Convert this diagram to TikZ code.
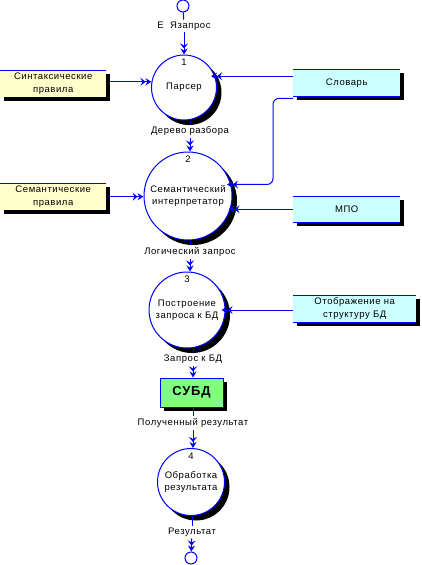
\documentclass[tikz,border=0pt]{standalone}
\usepackage{fontspec}
\setmainfont{Liberation Sans}[LetterSpace=6]
\usetikzlibrary{arrows.meta,shadows}
\definecolor{dfdblue}{HTML}{0000FF}
\definecolor{storeyellow}{HTML}{FFFFCC}
\definecolor{storecyan}{HTML}{CCFFFF}
\definecolor{dbmsgreen}{HTML}{80FF80}
\newcommand{\dfdfont}{\fontsize{9.5}{12.5}\selectfont}

\tikzset{
  Process/.style={shape=circle, draw=dfdblue, fill=white, line width=1pt,
    inner sep=0pt, align=center, font=\dfdfont,
    drop shadow={shadow xshift=5pt, shadow yshift=-5pt, opacity=1, fill=black}},
  Number/.style={anchor=north, inner sep=0pt, yshift=-4.5pt, font=\dfdfont},
  Terminal/.style={shape=circle, draw=dfdblue, fill=white, line width=1pt,
    inner sep=0pt, minimum size=12pt},
  Store/.style={shape=rectangle, inner sep=0pt, minimum height=27pt,
    align=center, font=\dfdfont, anchor=north west,
    drop shadow={shadow xshift=4pt, shadow yshift=-4pt, opacity=1, fill=black}},
  StoreLine/.style={draw=dfdblue, line width=1pt},
  DBMS/.style={shape=rectangle, draw=dfdblue, fill=dbmsgreen, line width=1pt,
    minimum width=63pt, minimum height=29pt, inner sep=0pt,
    font=\fontsize{13}{15}\selectfont\bfseries,
    drop shadow={shadow xshift=4pt, shadow yshift=-4pt, opacity=1, fill=black}},
  FlowLabel/.style={inner sep=2pt, font=\dfdfont},
  flowline/.style={draw=dfdblue, line width=1pt},
  flow/.style={flowline, -{Stealth[length=5pt,width=8pt,inset=2pt]Stealth[length=6pt,width=7pt,inset=2pt]}},
  intoshadow/.style={shorten >=-4pt}
}

\begin{document}
\begin{tikzpicture}[x=1pt,y=-1pt]
\useasboundingbox (0,0) rectangle (421,565);

\node[Terminal] (t0) at (183,6) {};
\node[Terminal] (t1) at (191,558) {};

\node[Process, minimum size=65pt] (p1) at (184,87.5) {Парсер};
\node[Number] (p1n) at (p1.north) {1};
\node[Process, minimum size=88pt] (p2) at (188,196) {Семантический\\интерпретатор};
\node[Number] (p2n) at (p2.north) {2};
\node[Process, minimum size=76pt] (p3) at (187,310) {Построение\\запроса к БД};
\node[Number] (p3n) at (p3.north) {3};
\node[Process, minimum size=67pt] (p4) at (191,482) {Обработка\\результата};
\node[Number] (p4n) at (p4.north) {4};

\node[DBMS] (db) at (191.5,392.5) {СУБД};

\node[Store, fill=storeyellow, minimum width=106pt] (s1) at (0,70) {Синтаксические\\правила};
\node[Store, fill=storeyellow, minimum width=106pt] (s2) at (0,183) {Семантические\\правила};
\node[Store, fill=storecyan, minimum width=107pt] (s3) at (293,69) {Словарь};
\node[Store, fill=storecyan, minimum width=107pt, minimum height=26pt] (s4) at (293,196) {МПО};
\node[Store, fill=storecyan, minimum width=123pt] (s5) at (293,295) {Отображение на\\структуру БД};
\foreach \s in {s1,s2,s3,s4,s5}
  \draw[StoreLine] (\s.north west) -- (\s.north east);
\foreach \s in {s3,s4,s5}
  \draw[StoreLine] (\s.south west) -- (\s.south east);

\node[FlowLabel] (lq) at (184,26) {Е\ \ Язапрос};
\node[FlowLabel] (lt) at (190,131) {Дерево разбора};
\node[FlowLabel] (ll) at (190,252) {Логический запрос};
\node[FlowLabel] (lb) at (193,359) {Запрос к БД};
\node[FlowLabel] (lr) at (193,423) {Полученный результат};
\node[FlowLabel] (lf) at (192,532) {Результат};

\draw[flowline] (t0) -- (lq);
\draw[flow] (lq) -- (p1);
\draw[flowline] (lt.north |- p1.south) -- (lt);
\draw[flow] (lt) -- (lt.south |- p2.north);
\draw[flowline] (ll.north |- p2.south) -- (ll);
\draw[flow] (ll) -- (ll.south |- p3.north);
\draw[flowline] (lb.north |- p3.south) -- (lb);
\draw[flow] (lb) -- (lb.south |- db.north);
\draw[flowline] (lr.north |- db.south) -- (lr);
\draw[flow] (lr) -- (lr.south |- p4.north);
\draw[flowline] (lf.north |- p4.south) -- (lf);
\draw[flow] (lf) -- (t1);

\draw[flow] ([xshift=4pt]s1.east |- p1.170) -- (p1.170);
\draw[flow, intoshadow] (s3.west |- p1.20) -- (p1.20);
\draw[flow] ([xshift=4pt]s2.east) -- (p2.west |- s2.east);
\draw[flow, intoshadow, rounded corners=6pt] ([yshift=-2pt]s3.south west) -- ++(-20,0) |- (p2.15);
\draw[flow, intoshadow] (s4.west) -- (s4.west -| p2.east);
\draw[flow, intoshadow] (s5.west |- p3.east) -- (p3.east);
\end{tikzpicture}
\end{document}
